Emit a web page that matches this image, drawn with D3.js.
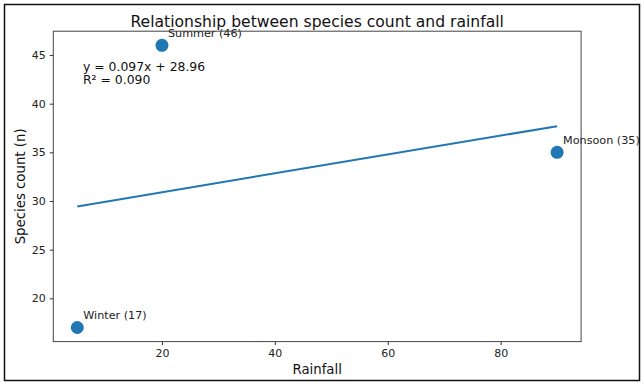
<!DOCTYPE html>
<html lang="en">
<head>
  <meta charset="UTF-8">
  <title>Relationship between species count and rainfall</title>
  <style>
  body {
    margin: 0;
    background: #fff;
  }

  #chart {
    display: block;
    font-family: "DejaVu Sans", sans-serif;
  }

  .tick text {
    font-size: 11px;
    fill: #222;
  }

  .tick line {
    stroke: #333;
  }
  </style>
</head>
<body>
  <svg id="chart"></svg>
<script src="https://cdn.jsdelivr.net/npm/d3@7"></script>
<script>
// Data
const seasons = ["Winter", "Summer", "Monsoon"];
const rainfall = [5, 20, 90];
const speciesCount = [17, 46, 35];
const xTicks = [20, 40, 60, 80];
const yTicks = [20, 25, 30, 35, 40, 45];
// fitted line as printed on the chart
const slope = 0.097;
const intercept = 28.96;
const rSquared = "0.090";

const W = 644, H = 385;
const plot = { left: 53.3, right: 581.1, top: 31.2, bottom: 341.6 };
const blue = "#1f77b4";

const svg = d3.select("#chart")
  .attr("width", W)
  .attr("height", H);

// outer frame
svg.append("rect")
  .attr("x", 4.5).attr("y", 4.5)
  .attr("width", W - 9).attr("height", H - 9)
  .attr("fill", "none")
  .attr("stroke", "#111")
  .attr("stroke-width", 1.5);

// matplotlib style 5% margins
const xExt = d3.extent(rainfall), yExt = d3.extent(speciesCount);
const xPad = (xExt[1] - xExt[0]) * 0.05, yPad = (yExt[1] - yExt[0]) * 0.05;

const x = d3.scaleLinear()
  .domain([xExt[0] - xPad, xExt[1] + xPad])
  .range([plot.left, plot.right]);

const y = d3.scaleLinear()
  .domain([yExt[0] - yPad, yExt[1] + yPad])
  .range([plot.bottom, plot.top]);

// axes
const xAxis = svg.append("g")
  .attr("transform", `translate(0,${plot.bottom})`)
  .call(d3.axisBottom(x).tickValues(xTicks).tickSize(3.5).tickPadding(4).tickFormat(d3.format("d")));
xAxis.select(".domain").remove();

const yAxis = svg.append("g")
  .attr("transform", `translate(${plot.left},0)`)
  .call(d3.axisLeft(y).tickValues(yTicks).tickSize(3.5).tickPadding(4).tickFormat(d3.format("d")));
yAxis.select(".domain").remove();
svg.selectAll(".tick text").attr("font-family", "DejaVu Sans");

// trend line
const trend = rainfall.length ? [xExt[0], xExt[1]] : [];
svg.append("path")
  .datum(trend)
  .attr("fill", "none")
  .attr("stroke", blue)
  .attr("stroke-width", 2)
  .attr("d", d3.line().x(d => x(d)).y(d => y(slope * d + intercept)));

// points
const pts = seasons.map((s, i) => ({ season: s, rain: rainfall[i], n: speciesCount[i] }));

svg.selectAll(".dot")
  .data(pts)
  .enter()
  .append("circle")
  .attr("class", "dot")
  .attr("cx", d => x(d.rain))
  .attr("cy", d => y(d.n))
  .attr("r", 6.5)
  .attr("fill", blue);

svg.selectAll(".lbl")
  .data(pts)
  .enter()
  .append("text")
  .attr("class", "lbl")
  .attr("x", d => x(d.rain) + 6)
  .attr("y", d => y(d.n) - 8.4)
  .attr("font-size", "11.2px")
  .attr("fill", "#222")
  .text(d => `${d.season} (${d.n})`);

// equation box text
const eq = svg.append("text")
  .attr("font-size", "12.4px")
  .attr("fill", "#111");
eq.append("tspan").attr("x", 83).attr("y", 70.6)
  .text(`y = ${slope.toFixed(3)}x + ${intercept.toFixed(2)}`);
eq.append("tspan").attr("x", 83).attr("y", 84)
  .text(`R² = ${rSquared}`);

// plot frame drawn on top
svg.append("rect")
  .attr("x", plot.left).attr("y", plot.top)
  .attr("width", plot.right - plot.left)
  .attr("height", plot.bottom - plot.top)
  .attr("fill", "none")
  .attr("stroke", "#444")
  .attr("stroke-width", 1);

// titles
svg.append("text")
  .attr("x", (plot.left + plot.right) / 2)
  .attr("y", 27)
  .attr("text-anchor", "middle")
  .attr("font-size", "15.6px")
  .attr("fill", "#111")
  .text("Relationship between species count and rainfall");

svg.append("text")
  .attr("x", (plot.left + plot.right) / 2)
  .attr("y", 374)
  .attr("text-anchor", "middle")
  .attr("font-size", "13.3px")
  .attr("fill", "#111")
  .text("Rainfall");

svg.append("text")
  .attr("transform", `translate(24.5,${(plot.top + plot.bottom) / 2}) rotate(-90)`)
  .attr("text-anchor", "middle")
  .attr("font-size", "13.3px")
  .attr("fill", "#111")
  .text("Species count (n)");
</script>
</body>
</html>
